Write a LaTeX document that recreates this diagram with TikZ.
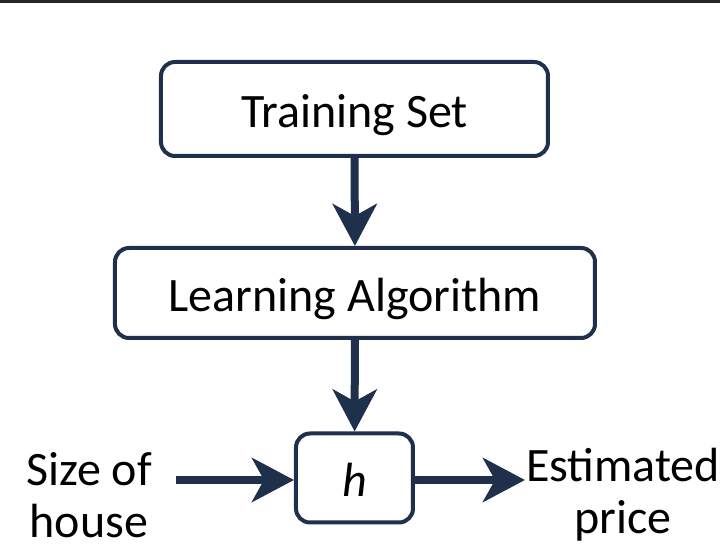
\documentclass[tikz,border=0pt]{standalone}
\usepackage{fontspec}
\setmainfont{Carlito}
\usetikzlibrary{arrows.meta}
\definecolor{flownavy}{RGB}{30, 48, 76}

\begin{document}
\begin{tikzpicture}[x=0.5pt, y=-0.5pt,
    every node/.style={font=\fontsize{24}{26}\selectfont},
    stagebox/.style={draw=flownavy, line width=2pt, rounded corners=7pt, fill=white,
      inner sep=0pt, text height=19pt, text depth=0pt},
    flowarrow/.style={draw=flownavy, line width=4pt,
      -{Stealth[length=21pt, width=22pt, inset=6pt, flownavy]}}]
  \useasboundingbox (0,0) rectangle (720,550);
  \clip (0,0) rectangle (720,550);
  % top edge of the slide
  \fill[black!85] (0,0) rectangle (720,3);
  % the three stages
  \node[stagebox, minimum width=193.5pt, minimum height=47pt] (train) at (354.5,109) {Training Set};
  \node[stagebox, minimum width=240pt, minimum height=45pt] (learn) at (355,293) {Learning Algorithm};
  \node[stagebox, minimum width=58.5pt, minimum height=44.5pt] (hyp) at (354.5,478) {\itshape h};
  % input and output
  \node[align=center] (size) at (89,495) {Size of\\house};
  \node[align=center] (price) at (623,495) {Estimated\\price};
  \coordinate (in) at (176,480);
  \coordinate (out) at (525,480);
  \draw[flowarrow] (train) -- (learn);
  \draw[flowarrow] (learn) -- (hyp);
  \draw[flowarrow] (in) -- (in -| hyp.west);
  \draw[flowarrow] (out -| hyp.east) -- (out);
\end{tikzpicture}
\end{document}
